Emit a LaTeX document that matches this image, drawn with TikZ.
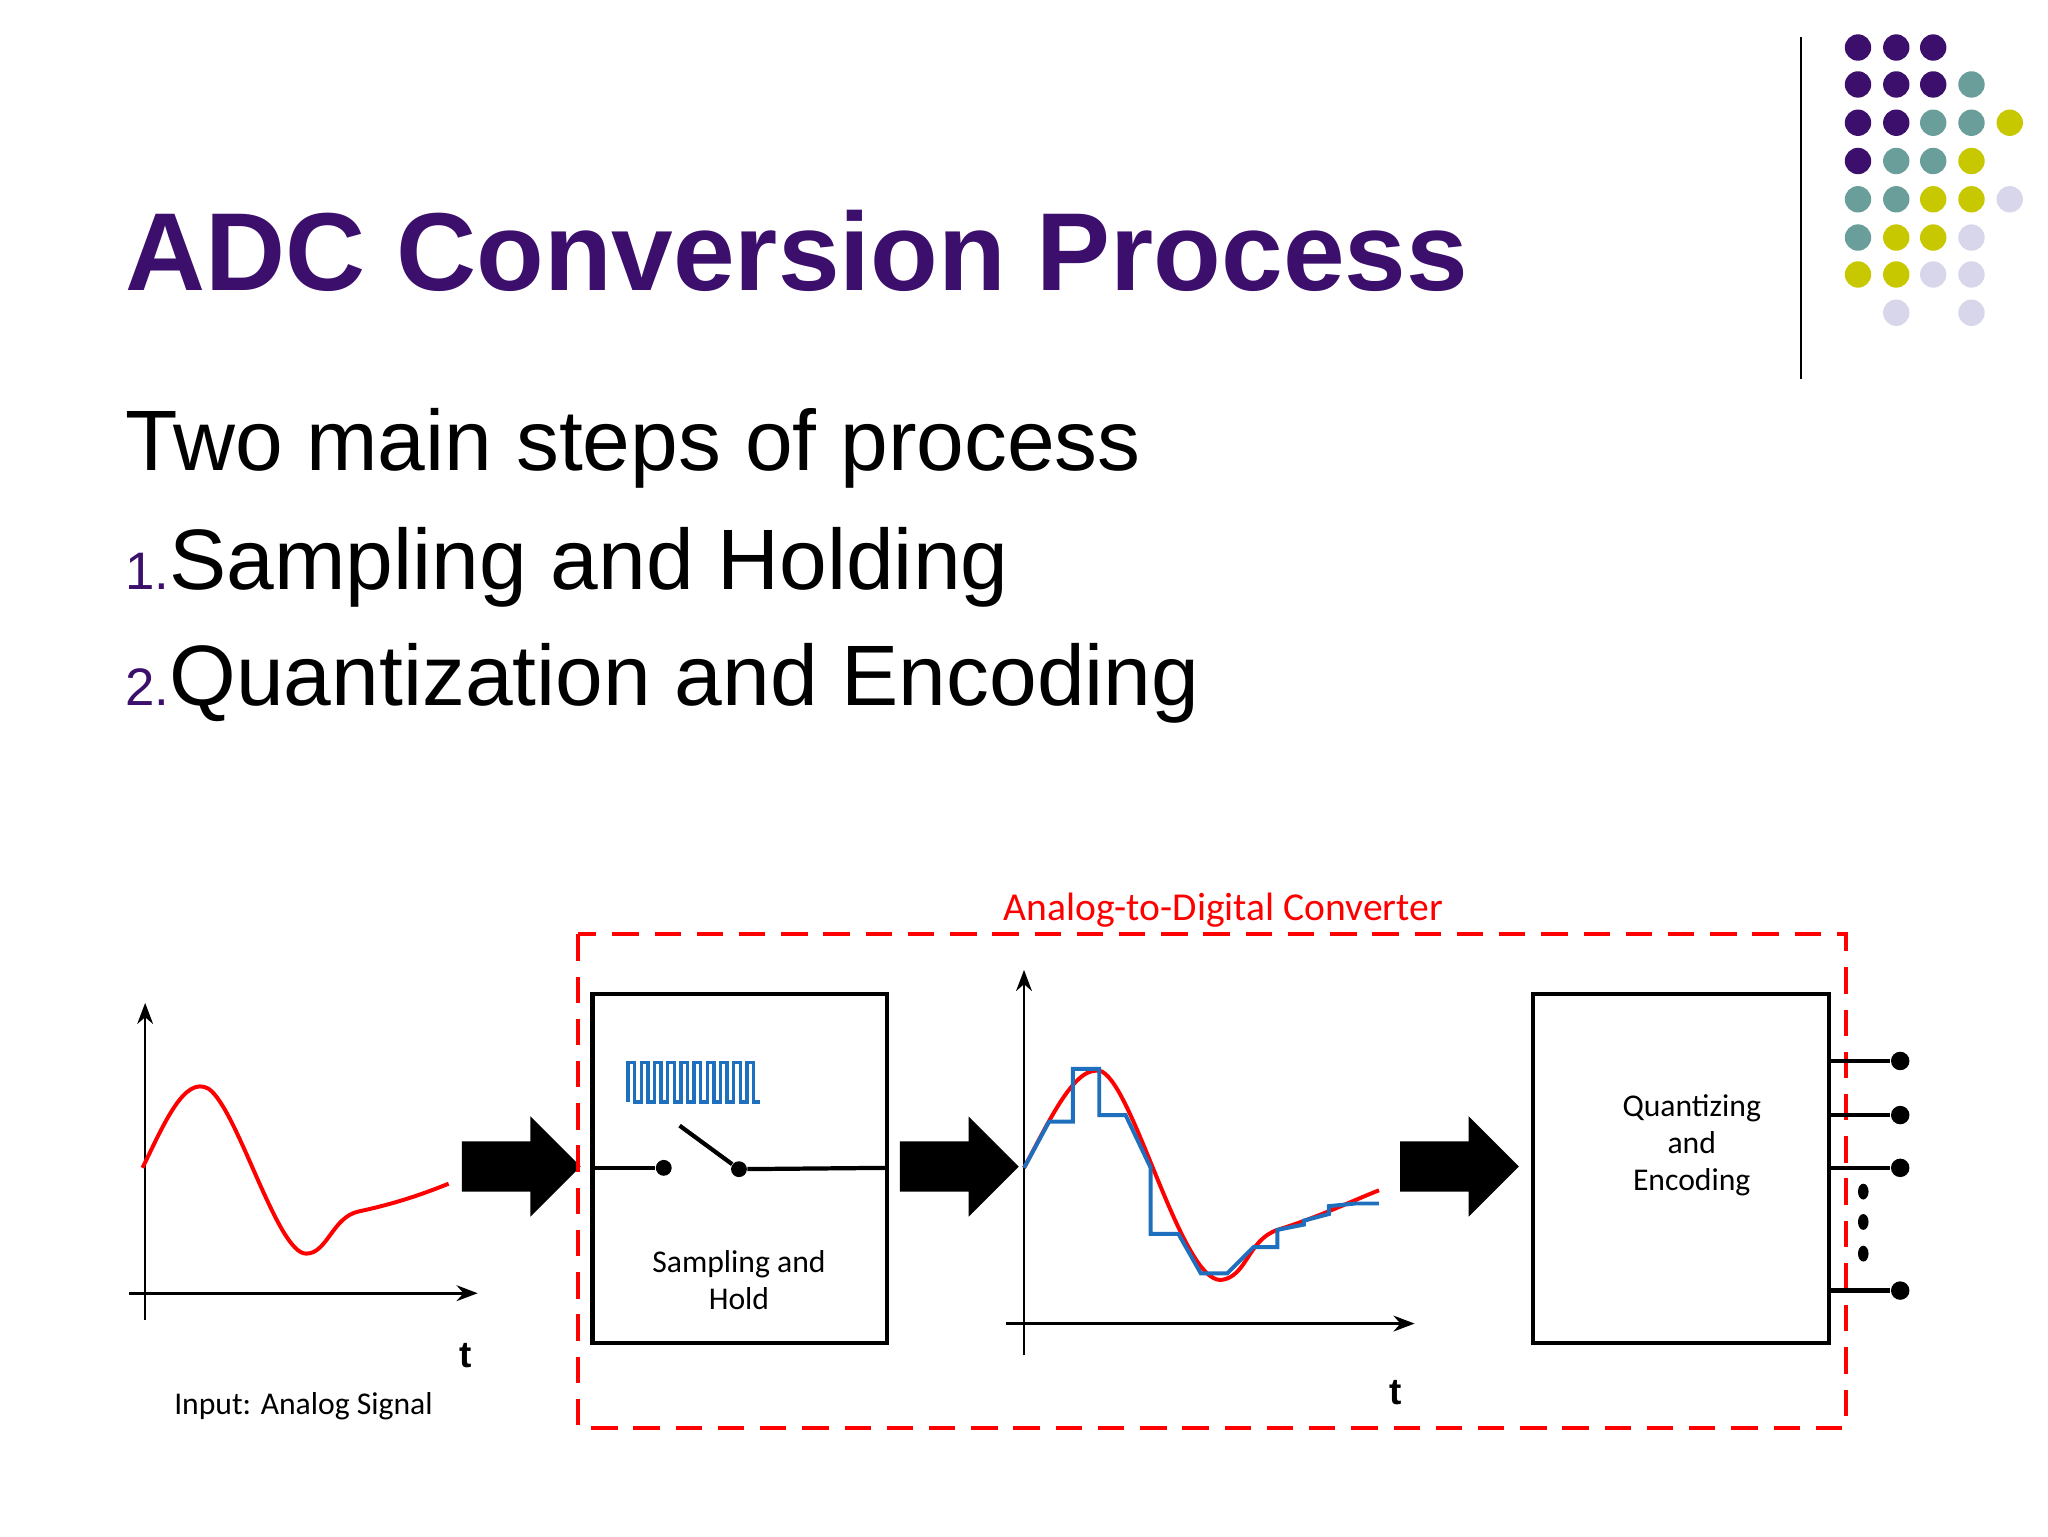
\documentclass[tikz,border=0pt]{standalone}
\usepackage{fontspec}
\setmainfont{Liberation Sans}
\newfontfamily\carl{Carlito}
\usetikzlibrary{arrows.meta}
\definecolor{pp}{HTML}{3B0F6B}
\definecolor{tl}{HTML}{6A9E9A}
\definecolor{yl}{HTML}{C8C800}
\definecolor{lv}{HTML}{D8D6EA}
\definecolor{bl}{HTML}{1F6FBF}
\tikzset{
 ax/.style={line width=1pt,-{Stealth[length=8pt]}},
 box/.style={draw,line width=1.6pt},
 lbl/.style={font=\carl\fontsize{12}{14}\selectfont,align=center},
 dot/.style={circle,fill,inner sep=0pt,minimum size=6pt}}
\newcommand{\bigarrow}[1]{\fill #1 ++(0,-19) -- ++(52,0) -- ++(0,-19) -- ++(38,38) -- ++(-38,38) -- ++(0,-19) -- ++(-52,0) -- cycle;}
\begin{document}
\begin{tikzpicture}[x=0.5pt,y=-0.5pt]
\useasboundingbox (0,0) rectangle (1552,1164);
\fill[white] (0,0) rectangle (1552,1164);
% dots
\foreach \c/\x/\y in {pp/1408/36,pp/1437/36,pp/1465/36,
 pp/1408/64,pp/1437/64,pp/1465/64,tl/1494/64,
 pp/1408/93,pp/1437/93,tl/1465/93,tl/1494/93,yl/1523/93,
 pp/1408/122,tl/1437/122,tl/1465/122,yl/1494/122,
 tl/1408/151,tl/1437/151,yl/1465/151,yl/1494/151,lv/1523/151,
 tl/1408/180,yl/1437/180,yl/1465/180,lv/1494/180,
 yl/1408/208,yl/1437/208,lv/1465/208,lv/1494/208,
 lv/1437/237,lv/1494/237}
 \fill[\c] (\x,\y) circle (10);
\draw[line width=0.8pt] (1365,28) -- (1365,287);
% texts
\node[anchor=west,text=pp,font=\bfseries\fontsize{42}{46}\selectfont] (title) at (88,190) {ADC Conversion Process};
\node[anchor=west,font=\fontsize{32.5}{36}\selectfont] (l0) at (88,340) {Two main steps of process};
\node[anchor=west,font=\fontsize{32.5}{36}\selectfont] (l1) at (88,430) {{\color{pp}\fontsize{20}{24}\selectfont 1.}Sampling and Holding};
\node[anchor=west,font=\fontsize{32.5}{36}\selectfont] (l2) at (88,518) {{\color{pp}\fontsize{20}{24}\selectfont 2.}Quantization and Encoding};
% plot 1
\coordinate (a1b) at (110,1000); \coordinate (a1t) at (110,760);
\coordinate (h1l) at (98,980); \coordinate (h1r) at (362,980);
\draw[ax] (a1b) -- (a1t); \draw[ax] (h1l) -- (h1r);
\draw[red,line width=1.5pt] (108,885) .. controls (125,850) and (140,815) .. (158,825) .. controls (180,840) and (210,950) .. (232,950) .. controls (248,950) and (252,922) .. (272,918) .. controls (300,912) and (320,905) .. (340,897);
\node[font=\bfseries\fontsize{14}{16}\selectfont] (t1) at (353,1027) {t};
\node[lbl] (in) at (230,1066) {Input: Analog Signal};
% big arrows
\bigarrow{(350,884)}
\bigarrow{(682,884)}
\bigarrow{(1061,884)}
% ADC
\draw[red,line width=1.4pt,dash pattern=on 10pt off 6pt] (438,708) rectangle (1399,1082);
\node[text=red,font=\carl\fontsize{15}{18}\selectfont,inner sep=1pt] (adc) at (927,690) {Analog-to-Digital Converter};
% S&H
\draw[box] (449,753) rectangle (672,1018);
\node[dot] (s1) at (503,885) {}; \node[dot] (s2) at (560,886) {};
\coordinate (shl) at (449,885); \coordinate (shr) at (672,885); \coordinate (sw) at (515,853);
\draw[line width=1.6pt] (shl) -- (s1); \draw[line width=1.6pt] (s2) -- (shr);
\draw[line width=1.6pt] (sw) -- (s2);
\draw[bl,line width=1.3pt] (476,835) \foreach \i in {0,...,9} {-- ++(0,-30) -- ++(5,0) -- ++(0,30) -- ++(5,0)} -- (576,835);
\node[lbl] (sh) at (560,970) {Sampling and\\Hold};
% plot 2
\coordinate (a2b) at (776,1027); \coordinate (a2t) at (776,735);
\coordinate (h2l) at (762,1003); \coordinate (h2r) at (1072,1003);
\draw[ax] (a2b) -- (a2t); \draw[ax] (h2l) -- (h2r);
\draw[red,line width=1.5pt] (776,885) .. controls (795,850) and (815,805) .. (835,812) .. controls (860,825) and (895,970) .. (925,970) .. controls (945,968) and (945,940) .. (968,932) .. controls (1000,922) and (1020,912) .. (1045,902);
\draw[bl,line width=1.5pt] (776,885) -- (795,850) -- (813,850) -- (813,810) -- (833,810) -- (833,845) -- (853,845) -- (872,885) -- (872,935) -- (893,935) -- (910,965) -- (930,965) -- (950,945) -- (968,945) -- (968,932) -- (988,928) -- (988,925) -- (1007,920) -- (1007,914) -- (1027,912) -- (1045,912);
\node[font=\bfseries\fontsize{14}{16}\selectfont] (t2) at (1058,1055) {t};
% Q&E
\draw[box] (1162,753) rectangle (1386,1018);
\node[lbl] (qe) at (1282,868) {Quantizing\\and\\Encoding};
\foreach \y/\n in {804/o1,845/o2,885/o3,978/o4} {
 \coordinate (\n s) at (1386,\y);
 \node[dot,minimum size=7pt] (\n) at (1440,\y) {};
 \draw[line width=1.6pt] (\n s) -- (\n);}
\foreach \y in {903,926,950} \fill (1412,\y) ellipse (4 and 6);
\end{tikzpicture}
\end{document}
